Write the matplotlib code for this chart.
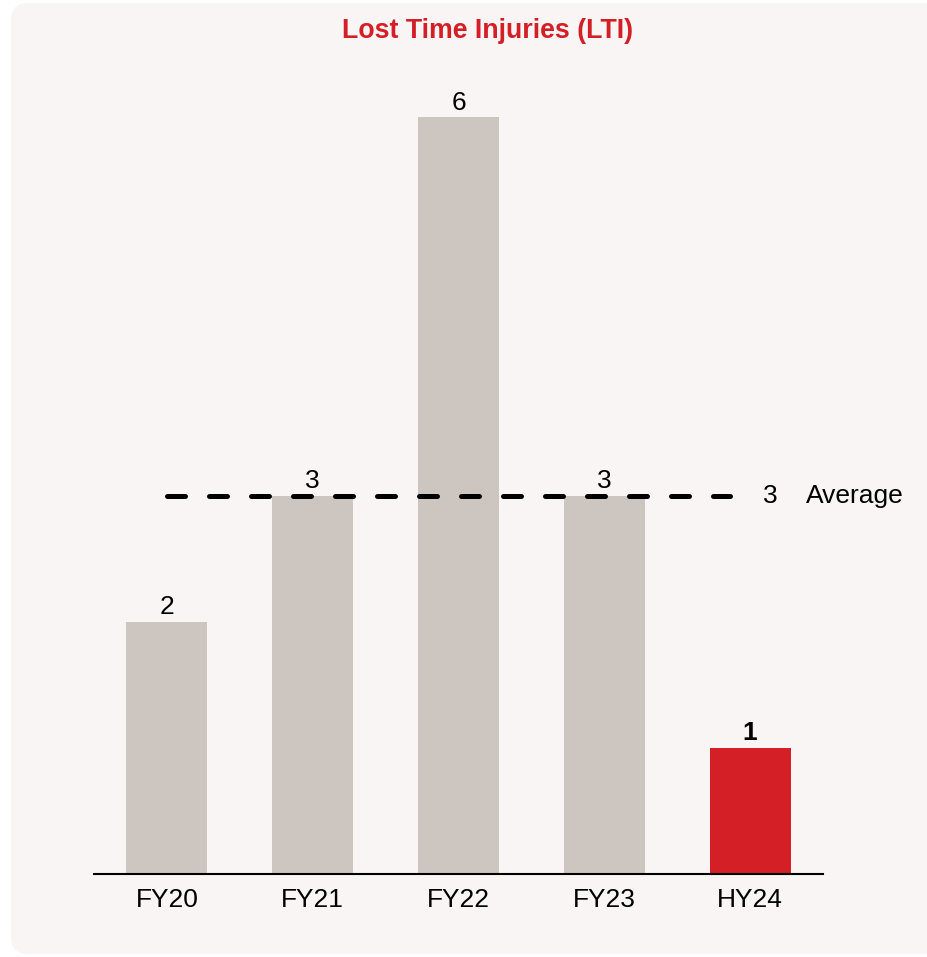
import matplotlib
matplotlib.use('Agg')
import matplotlib.pyplot as plt
from matplotlib.patches import FancyBboxPatch

categories = ['FY20', 'FY21', 'FY22', 'FY23', 'HY24']
lti_counts = [2, 3, 6, 3, 1]
average_lti = 3
average_label = 'Average'
title = 'Lost Time Injuries (LTI)'

plt.rcParams['font.family'] = ['Liberation Sans', 'DejaVu Sans']

W, H = 927, 957
fig = plt.figure(figsize=(W / 100, H / 100), dpi=100)
fig.patch.set_facecolor('white')

# rounded panel behind the chart
panel = FancyBboxPatch((11 / W, 3 / H), 960 / W, 951 / H,
                       boxstyle='round,pad=0,rounding_size=0.018',
                       transform=fig.transFigure, facecolor='#f8f5f4',
                       edgecolor='none', zorder=-5)
fig.patches.append(panel)

ax = fig.add_axes([94 / W, 83 / H, 729 / W, 807 / H])
ax.set_facecolor('none')
ax.set_zorder(1)

fs = 19
grey = '#cdc5c0'
red = '#d41f26'
colors = [grey] * (len(categories) - 1) + [red]
x = list(range(len(categories)))
bars = ax.bar(x, lti_counts, width=0.555, color=colors, zorder=2)

for i, (b, v) in enumerate(zip(bars, lti_counts)):
    last = i == len(categories) - 1
    ax.annotate(f'{v}', (b.get_x() + b.get_width() / 2, v),
                xytext=(0, 2), textcoords='offset points',
                ha='center', va='bottom', fontsize=fs,
                fontweight='bold' if last else 'normal', color='black')

# average line
ax.plot([0, 3.863], [average_lti, average_lti], color='black', lw=3.6,
        dashes=(3.6, 4.8), dash_capstyle='round', zorder=3)
ax.text(4.14, average_lti, f'{average_lti}', ha='center', va='center',
        fontsize=fs, color='black')
ax.text(4.385, average_lti, average_label, ha='left', va='center',
        fontsize=fs, color='black', clip_on=False)

ax.set_xlim(-0.5, 4.5)
ax.set_ylim(0, 6.4)
ax.set_xticks(x)
ax.set_xticklabels(categories, fontsize=fs)
ax.tick_params(axis='x', length=0, pad=10)
ax.set_yticks([])
for s in ['top', 'right', 'left']:
    ax.spines[s].set_visible(False)
ax.spines['bottom'].set_linewidth(1.5)
ax.spines['bottom'].set_color('black')

fig.text(488 / W, 1 - 31 / H, title, ha='center', va='center',
         fontsize=19.3, fontweight='bold', color=red)

fig.savefig('out.png', dpi=100)
